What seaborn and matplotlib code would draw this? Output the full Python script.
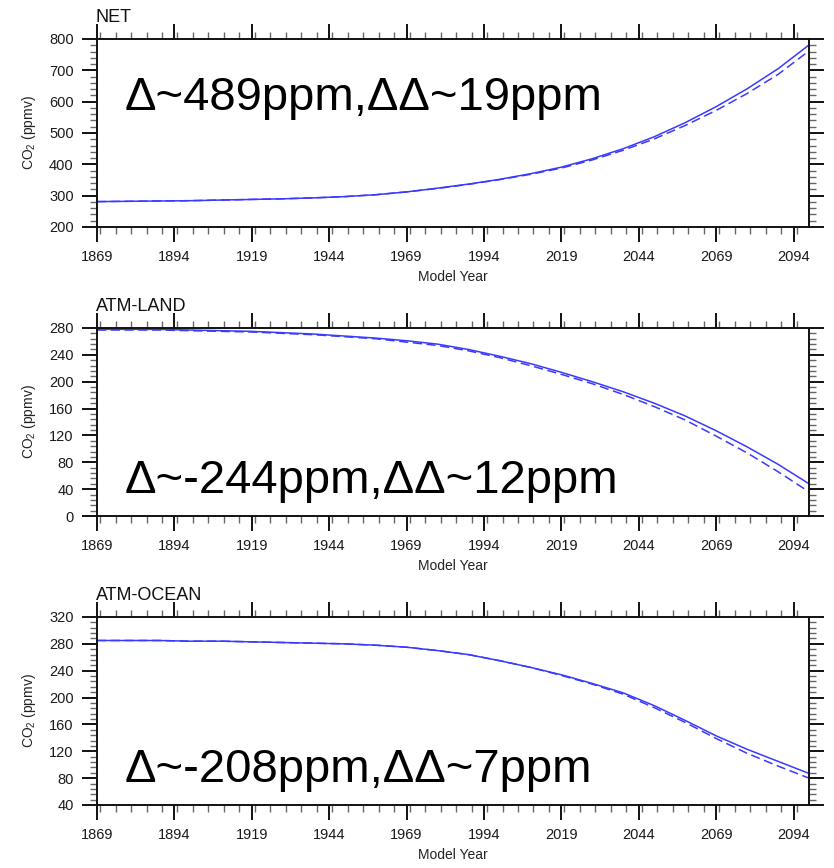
import numpy as np
import pandas as pd
import matplotlib
matplotlib.use("Agg")
import matplotlib.pyplot as plt
from matplotlib.ticker import MultipleLocator, FixedLocator
import seaborn as sns

# ---------------- data ----------------
years = [1869, 1879, 1889, 1899, 1909, 1919, 1929, 1939, 1949, 1959, 1969, 1979,
         1989, 1999, 2009, 2019, 2029, 2039, 2049, 2059, 2069, 2079, 2089, 2099]

net_solid = [281, 282, 283, 284, 286, 288, 290, 293, 297, 303, 312, 324,
             337, 352, 370, 391, 418, 450, 488, 533, 584, 641, 705, 781]
net_dashed = [281, 282, 283, 284, 286, 288, 290, 293, 297, 303, 312, 323,
              336, 351, 368, 388, 414, 445, 481, 524, 572, 626, 687, 762]

land_solid = [278, 278, 278, 277, 276, 275, 273, 271, 268, 265, 261, 256,
              248, 238, 227, 214, 200, 185, 168, 149, 127, 103, 77, 48]
land_dashed = [277, 277, 277, 276, 275, 274, 272, 270, 267, 264, 259, 254,
               246, 236, 224, 211, 197, 181, 163, 143, 119, 94, 66, 36]

ocean_solid = [285, 285, 285, 284, 284, 283, 282, 281, 280, 278, 275, 270,
               264, 255, 245, 234, 221, 207, 188, 166, 143, 123, 105, 87]
ocean_dashed = [285, 285, 285, 284, 284, 283, 282, 281, 280, 278, 275, 270,
                264, 255, 245, 233, 220, 205, 185, 163, 139, 117, 98, 80]

titles = ["NET", "ATM-LAND", "ATM-OCEAN"]
notes = ["\u0394~489ppm,\u0394\u0394~19ppm",
         "\u0394~-244ppm,\u0394\u0394~12ppm",
         "\u0394~-208ppm,\u0394\u0394~7ppm"]
ylims = [(200, 800), (0, 280), (40, 320)]
ymajor = [100, 40, 40]
yminor = [20, 8, 8]
xticks = [1869, 1894, 1919, 1944, 1969, 1994, 2019, 2044, 2069, 2094]
xlim = (1869, 2099)
xlabel = "Model Year"
ylabel = "CO$_2$ (ppmv)"

series = [(net_solid, net_dashed), (land_solid, land_dashed), (ocean_solid, ocean_dashed)]

# ---------------- style ----------------
sns.set_theme(style="white")
plt.rcParams['font.family'] = ['Liberation Sans', 'DejaVu Sans']
plt.rcParams['mathtext.fontset'] = 'custom'
plt.rcParams['mathtext.rm'] = 'Liberation Sans'

fig = plt.figure(figsize=(8.34, 8.68), dpi=100)
W, H = 834, 868
left_px, right_px = 97, 809
tops = [39, 328, 617]
ax_h = 188

line_color = "#3a3aff"

for i in range(3):
    top = tops[i]
    ax = fig.add_axes([left_px / W, 1 - (top + ax_h) / H, (right_px - left_px) / W, ax_h / H])
    s, d = series[i]
    df = pd.DataFrame({
        "year": years + years,
        "co2": list(s) + list(d),
        "run": ["solid"] * len(years) + ["dashed"] * len(years),
    })
    sns.lineplot(data=df, x="year", y="co2", style="run",
                 dashes={"solid": "", "dashed": (6, 3)},
                 color=line_color, linewidth=1.1, legend=False, ax=ax)
    ax.set_xlim(*xlim)
    ax.set_ylim(*ylims[i])
    ax.xaxis.set_major_locator(FixedLocator(xticks))
    ax.xaxis.set_minor_locator(MultipleLocator(5))
    ax.yaxis.set_major_locator(MultipleLocator(ymajor[i]))
    ax.yaxis.set_minor_locator(MultipleLocator(yminor[i]))
    ax.set_xticklabels([str(t) for t in xticks])
    ax.tick_params(which="major", direction="out", length=10.8, width=1.4, color="#111111",
                   top=True, right=True, bottom=True, left=True, labelsize=10.5, pad=6,
                   labelcolor="#1a1a1a")
    ax.tick_params(which="minor", direction="out", length=5, width=1.0, color="#666666",
                   top=True, right=True, bottom=True, left=True)
    for sp in ax.spines.values():
        sp.set_linewidth(1.4)
        sp.set_color("#111111")
        sp.set_visible(True)
    ax.set_xlabel(xlabel, fontsize=10, labelpad=4, color="#222222")
    ax.set_ylabel(ylabel, fontsize=10, labelpad=8, color="#222222")
    ax.annotate(titles[i], xy=(0, 1), xycoords="axes fraction",
                xytext=(-1, 12), textcoords="offset points",
                ha="left", va="baseline", fontsize=13, color="#111111")
    note_y = [0.622, 0.121, 0.124][i]
    ax.text(0.039, note_y, notes[i], transform=ax.transAxes, fontsize=34,
            ha="left", va="baseline", color="black")

fig.savefig("out.png", dpi=100)
